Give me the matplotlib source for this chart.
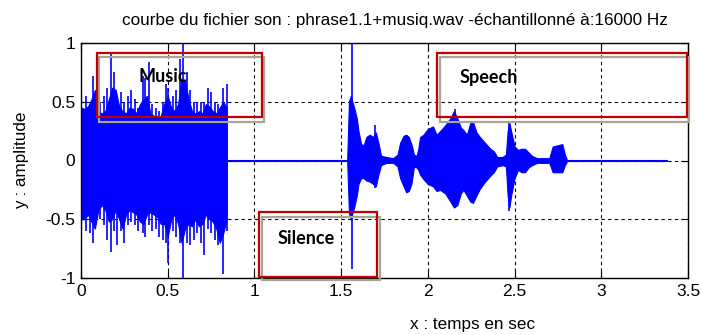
import matplotlib
matplotlib.use("Agg")
import matplotlib.pyplot as plt
from matplotlib.patches import Rectangle

# ---------------- data ----------------
title_text = "courbe du fichier son : phrase1.1+musiq.wav -échantillonné à:16000 Hz"
xlabel_text = "x : temps en sec"
ylabel_text = "y : amplitude"
x_ticks = [0, 0.5, 1, 1.5, 2, 2.5, 3, 3.5]
x_tick_labels = ["0", "0.5", "1", "1.5", "2", "2.5", "3", "3.5"]
y_ticks = [-1, -0.5, 0, 0.5, 1]
y_tick_labels = ["-1", "-0.5", "0", "0.5", "1"]

# music envelope (seconds, upper, lower)
music_t = [0.00, 0.02, 0.04, 0.06, 0.08, 0.10, 0.12, 0.14, 0.16, 0.18, 0.20,
           0.22, 0.24, 0.26, 0.28, 0.30, 0.32, 0.34, 0.36, 0.38, 0.40, 0.42,
           0.44, 0.46, 0.48, 0.50, 0.52, 0.54, 0.56, 0.58, 0.60, 0.62, 0.64,
           0.66, 0.68, 0.70, 0.72, 0.74, 0.76, 0.78, 0.80, 0.82, 0.84]
music_hi = [0.45, 0.44, 0.46, 0.52, 0.60, 0.42, 0.40, 0.42, 0.52, 0.62, 0.60,
            0.46, 0.42, 0.40, 0.45, 0.44, 0.40, 0.48, 0.52, 0.55, 0.40, 0.38,
            0.36, 0.38, 0.48, 0.55, 0.45, 0.42, 0.48, 0.70, 0.68, 0.52, 0.42,
            0.40, 0.42, 0.40, 0.48, 0.46, 0.42, 0.40, 0.45, 0.50, 0.45]
music_lo = [-0.50, -0.50, -0.46, -0.52, -0.58, -0.42, -0.38, -0.42, -0.52, -0.50, -0.42,
            -0.50, -0.58, -0.46, -0.42, -0.44, -0.46, -0.52, -0.54, -0.46, -0.44, -0.46,
            -0.48, -0.54, -0.54, -0.65, -0.50, -0.46, -0.54, -0.70, -0.58, -0.54, -0.56,
            -0.50, -0.56, -0.54, -0.46, -0.50, -0.52, -0.58, -0.70, -0.62, -0.50]

# isolated peaks (seconds, top, bottom)
peak_t = [0.000, 0.030, 0.050, 0.070, 0.110, 0.130, 0.150, 0.175, 0.190, 0.210,
          0.230, 0.250, 0.270, 0.290, 0.310, 0.330, 0.355, 0.370, 0.390, 0.410,
          0.430, 0.450, 0.470, 0.490, 0.504, 0.530, 0.550, 0.570, 0.590, 0.610,
          0.630, 0.650, 0.670, 0.690, 0.710, 0.730, 0.750, 0.770, 0.790, 0.817,
          0.840, 1.565, 1.695, 2.155, 2.465]
peak_hi = [0.76, 0.55, 0.48, 0.72, 0.50, 0.55, 0.62, 0.91, 0.75, 0.55,
           0.58, 0.50, 0.55, 0.60, 0.52, 0.45, 0.72, 0.70, 0.84, 0.48,
           0.45, 0.42, 0.50, 0.65, 0.62, 0.55, 0.60, 0.86, 1.00, 0.75,
           0.60, 0.50, 0.50, 0.50, 0.50, 0.62, 0.58, 0.50, 0.48, 0.62,
           0.65, 1.00, 0.30, 0.44, 0.34]
peak_lo = [-1.00, -0.60, -0.62, -0.70, -0.50, -0.55, -0.68, -0.78, -0.60, -0.72,
           -0.60, -0.70, -0.55, -0.52, -0.55, -0.60, -0.62, -0.65, -0.55, -0.60,
           -0.58, -0.65, -0.68, -0.70, -0.87, -0.60, -0.65, -0.70, -1.00, -0.70,
           -0.72, -0.68, -0.62, -0.70, -0.80, -0.58, -0.62, -0.68, -0.72, -0.97,
           -0.60, -0.92, -0.23, -0.40, -0.43]

# near-silence between music and speech, and after speech
quiet_t = [0.85, 1.535, 2.80, 3.377]
quiet_amp = 0.006

# speech envelope
speech_t = [1.535, 1.545, 1.555, 1.575, 1.59, 1.60, 1.615, 1.63, 1.645, 1.665,
            1.685, 1.70, 1.715, 1.73, 1.76, 1.80, 1.825, 1.84, 1.86, 1.875,
            1.89, 1.905, 1.92, 1.935, 1.945, 1.955, 1.975, 2.00, 2.03, 2.05,
            2.07, 2.10, 2.13, 2.15, 2.17, 2.19, 2.205, 2.225, 2.245, 2.26,
            2.28, 2.30, 2.33, 2.36, 2.38, 2.40, 2.43, 2.45, 2.46, 2.47,
            2.48, 2.50, 2.52, 2.54, 2.56, 2.58, 2.60, 2.63, 2.70, 2.72,
            2.75, 2.775, 2.79, 2.80]
speech_hi = [0.01, 0.50, 0.55, 0.45, 0.36, 0.25, 0.14, 0.13, 0.20, 0.22,
             0.20, 0.24, 0.15, 0.04, 0.03, 0.02, 0.05, 0.15, 0.21, 0.22,
             0.20, 0.14, 0.05, 0.04, 0.10, 0.20, 0.22, 0.27, 0.29, 0.22,
             0.25, 0.30, 0.36, 0.42, 0.36, 0.28, 0.26, 0.22, 0.32, 0.33,
             0.24, 0.20, 0.15, 0.10, 0.08, 0.03, 0.03, 0.05, 0.25, 0.32,
             0.25, 0.12, 0.09, 0.10, 0.10, 0.07, 0.04, 0.02, 0.02, 0.12,
             0.13, 0.14, 0.05, 0.015]
speech_lo = [-0.01, -0.45, -0.50, -0.40, -0.30, -0.20, -0.15, -0.15, -0.17, -0.18,
             -0.20, -0.22, -0.12, -0.04, -0.02, -0.02, -0.05, -0.15, -0.22, -0.27,
             -0.26, -0.20, -0.05, -0.06, -0.08, -0.12, -0.16, -0.20, -0.22, -0.26,
             -0.25, -0.28, -0.35, -0.40, -0.38, -0.28, -0.25, -0.30, -0.35, -0.36,
             -0.30, -0.24, -0.18, -0.13, -0.10, -0.05, -0.04, -0.05, -0.30, -0.40,
             -0.30, -0.15, -0.08, -0.10, -0.10, -0.06, -0.04, -0.02, -0.02, -0.10,
             -0.10, -0.10, -0.04, -0.015]

box_labels = ["Music", "Silence", "Speech"]

# ---------------- figure ----------------
W, H = 702, 335
fig = plt.figure(figsize=(W / 100, H / 100), dpi=100)
ax = fig.add_axes([81 / W, 1 - 278 / H, (688 - 81) / W, (278 - 43) / H])

narrow = ["Liberation Sans Narrow", "Liberation Sans", "DejaVu Sans"]
blue = "#0000ff"

ax.fill_between(music_t, music_lo, music_hi, color=blue, lw=0.8, edgecolor=blue, zorder=3)
ax.fill_between(speech_t, speech_lo, speech_hi, color=blue, lw=0.8, edgecolor=blue, zorder=3)
for i in range(0, len(quiet_t), 2):
    ax.fill_between([quiet_t[i], quiet_t[i + 1]], [-quiet_amp] * 2, [quiet_amp] * 2,
                    color=blue, lw=0.8, edgecolor=blue, zorder=3)
ax.vlines(peak_t, peak_lo, peak_hi, color=blue, lw=1.2, zorder=3)

ax.set_xlim(0, 3.5)
ax.set_ylim(-1, 1)
ax.set_xticks(x_ticks)
ax.set_xticklabels(x_tick_labels, family=narrow, fontsize=12.5)
ax.set_yticks(y_ticks)
ax.set_yticklabels(y_tick_labels, family=narrow, fontsize=12.5)
ax.tick_params(direction="in", top=True, right=True, length=5, width=0.8, pad=4)
ax.grid(True, color="black", linestyle=(0, (3, 3)), lw=0.8, zorder=1)
for s in ax.spines.values():
    s.set_linewidth(1.0)
    s.set_zorder(5)

fig.text(395 / W, 1 - 20 / H, title_text, family=narrow, fontsize=12.3,
         ha="center", va="center")
fig.text(473 / W, 1 - 325 / H, xlabel_text, family=narrow, fontsize=12.3,
         ha="center", va="center")
fig.text(22 / W, 1 - 160 / H, ylabel_text, family=narrow, fontsize=12.3,
         ha="center", va="center", rotation=90)

# annotation boxes (pixel rectangles: grey shadow then red frame)
def px_rect(x0, y0, x1, y1, color, lw):
    r = Rectangle((x0 / W, 1 - y1 / H), (x1 - x0) / W, (y1 - y0) / H,
                  transform=fig.transFigure, fill=False, edgecolor=color,
                  lw=lw, zorder=10)
    fig.add_artist(r)

grey = "#a3a894"
red = "#c00000"
boxes_red = [(97, 53, 262, 117), (259, 212, 377, 277), (437, 53, 687, 117)]
boxes_grey = [(99, 57, 264, 122), (262, 217, 380, 280), (440, 57, 689, 122)]
label_pos = [(163, 77), (306, 238), (489, 77)]
for g in boxes_grey:
    px_rect(*g, grey, 1.6)
for r in boxes_red:
    px_rect(*r, red, 1.6)
for lab, (lx, ly) in zip(box_labels, label_pos):
    fig.text(lx / W, 1 - ly / H, lab, family=["Lato", "DejaVu Sans"],
             fontweight="bold", fontsize=13, ha="center", va="center", zorder=11)

fig.savefig("out.png", dpi=100)
